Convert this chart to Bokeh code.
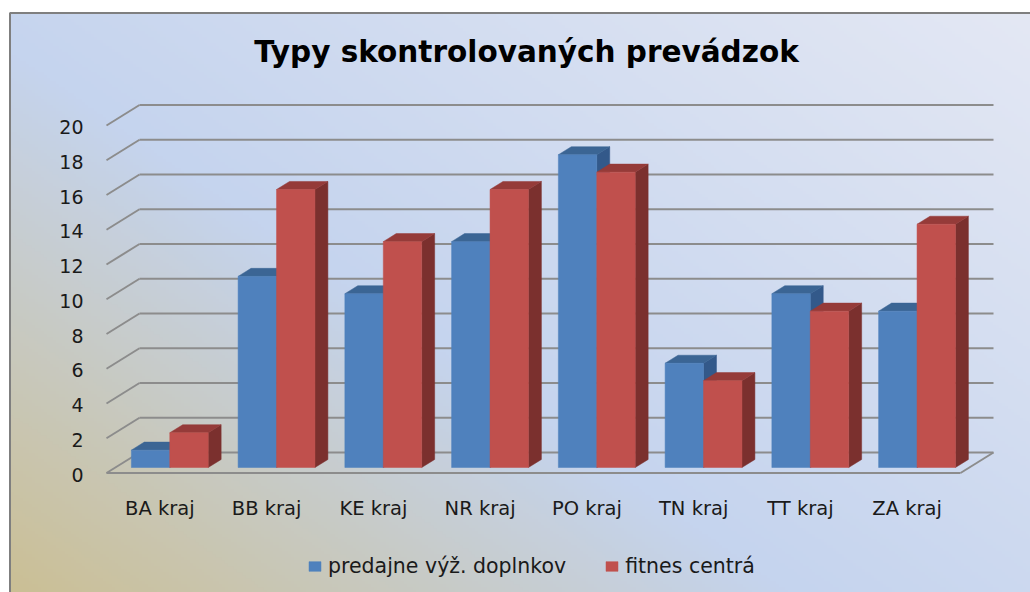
import numpy as np
from bokeh.plotting import figure
from bokeh.models import Range1d, Legend, LegendItem
from bokeh.core.properties import value
from bokeh.embed import file_html
from bokeh.resources import INLINE

# ---------------- data ----------------
categories = ["BA kraj", "BB kraj", "KE kraj", "NR kraj", "PO kraj", "TN kraj", "TT kraj", "ZA kraj"]
supplements = [1, 11, 10, 13, 18, 6, 10, 9]      # predajne výž. doplnkov
fitness = [2, 16, 13, 16, 17, 5, 9, 14]          # fitnes centrá
series_names = ["predajne výž. doplnkov", "fitnes centrá"]
y_ticks = [0, 2, 4, 6, 8, 10, 12, 14, 16, 18, 20]
title_text = "Typy skontrolovaných prevádzok"

FONT = "DejaVu Sans"

# ---------------- layout mapping (page px -> data) ----------------
W, H = 1030, 592
PX_X0, PX_PER_CAT = 106.0, 106.75
PX_Y0, PX_PER_VAL = 472.5, 17.375


def dx(px):
    return (px - PX_X0) / PX_PER_CAT


def dy(py):
    return (PX_Y0 - py) / PX_PER_VAL


DX = 33.0 / PX_PER_CAT     # depth offset (oblique projection)
DY = 20.5 / PX_PER_VAL
D0, D1 = 0.268, 0.66       # bar depth span
N = len(categories)

p = figure(width=W, height=H, output_backend="svg", toolbar_location=None,
           x_range=Range1d(dx(0), dx(W)), y_range=Range1d(dy(H), dy(0)),
           min_border=0, background_fill_color="white", border_fill_color="white")
p.axis.visible = False
p.grid.visible = False
p.outline_line_color = None

# ---------------- gradient background ----------------
gx0, gx1 = dx(10), dx(1034)
gy0, gy1 = dy(596), dy(13)
cols, rows = 344, 196
u = np.linspace(0, 1, cols)[None, :]
v = np.linspace(0, 1, rows)[:, None]
t = (u * 0.55 + v * 0.45)
stops = np.array([0.0, 0.42, 1.0])
c_r = np.interp(t, stops, [203, 197, 228])
c_g = np.interp(t, stops, [191, 212, 232])
c_b = np.interp(t, stops, [148, 238, 244])
img = np.zeros((rows, cols), dtype=np.uint32)
view = img.view(dtype=np.uint8).reshape((rows, cols, 4))
view[:, :, 0] = c_r.astype(np.uint8)
view[:, :, 1] = c_g.astype(np.uint8)
view[:, :, 2] = c_b.astype(np.uint8)
view[:, :, 3] = 255
p.image_rgba(image=[img], x=gx0, y=gy0, dw=gx1 - gx0, dh=gy1 - gy0)

# border
p.line([dx(9.5), dx(9.5), dx(1040)], [dy(600), dy(12.5), dy(12.5)],
       line_color="#7f7f7f", line_width=2)

# ---------------- walls / gridlines ----------------
GRID = "#8c8c8c"
wall_xs = [[0, DX] for _ in y_ticks]
wall_ys = [[tv, tv + DY] for tv in y_ticks]
back_xs = [[DX, N + DX] for _ in y_ticks]
back_ys = [[tv + DY, tv + DY] for tv in y_ticks]
floor_xs = [[0, N], [N, N + DX]]
floor_ys = [[0, 0], [0, DY]]
p.multi_line(wall_xs + back_xs + floor_xs, wall_ys + back_ys + floor_ys,
             line_color=GRID, line_width=2)

# ---------------- bars ----------------
def draw_series(vals, x_lo, x_hi, c_front, c_top, c_side):
    xl = [i + x_lo + D0 * DX for i in range(N)]
    xr = [i + x_hi + D0 * DX for i in range(N)]
    bot = [D0 * DY] * N
    top = [val + D0 * DY for val in vals]
    side_xs, side_ys, top_xs, top_ys = [], [], [], []
    for i, val in enumerate(vals):
        a, b = i + x_lo, i + x_hi
        side_xs.append([b + D0 * DX, b + D1 * DX, b + D1 * DX, b + D0 * DX])
        side_ys.append([D0 * DY, D1 * DY, val + D1 * DY, val + D0 * DY])
        top_xs.append([a + D0 * DX, b + D0 * DX, b + D1 * DX, a + D1 * DX])
        top_ys.append([val + D0 * DY, val + D0 * DY, val + D1 * DY, val + D1 * DY])
    p.patches(side_xs, side_ys, fill_color=c_side, line_color=c_side, line_width=0.5)
    p.patches(top_xs, top_ys, fill_color=c_top, line_color=c_top, line_width=0.5)
    return p.quad(left=xl, right=xr, bottom=bot, top=top,
                  fill_color=c_front, line_color=c_front, line_width=0.5)


r_blue = draw_series(supplements, 0.15, 0.51, "#4f81bd", "#3b6594", "#33598a")
r_red = draw_series(fitness, 0.51, 0.87, "#c0504d", "#953b39", "#7b302e")

# ---------------- texts ----------------
p.text(x=[dx(83)] * len(y_ticks), y=[tv - 1.5 / PX_PER_VAL for tv in y_ticks],
       text=[str(tv) for tv in y_ticks], text_align="right", text_baseline="middle",
       text_font=value(FONT), text_font_size="19px", text_color="#1a1a1a")

p.text(x=[i + 0.5 for i in range(N)], y=[dy(507.5)] * N, text=categories,
       text_align="center", text_baseline="middle",
       text_font=value(FONT), text_font_size="19.5px", text_color="#1a1a1a")

p.text(x=[dx(526)], y=[dy(51)], text=[title_text], text_align="center",
       text_baseline="middle", text_font=value(FONT), text_font_size="29.5px",
       text_font_style="bold", text_color="#000000")

legend = Legend(items=[LegendItem(label=series_names[0], renderers=[r_blue]),
                       LegendItem(label=series_names[1], renderers=[r_red])],
                orientation="horizontal", location=(307, 14),
                background_fill_alpha=0, border_line_color=None,
                label_text_font=FONT, label_text_font_size="20.5px", label_text_color="#1a1a1a",
                glyph_width=15, glyph_height=12, spacing=38, padding=0, margin=0,
                label_standoff=6)
p.add_layout(legend)

open("out.html", "w").write(file_html(p, INLINE))
